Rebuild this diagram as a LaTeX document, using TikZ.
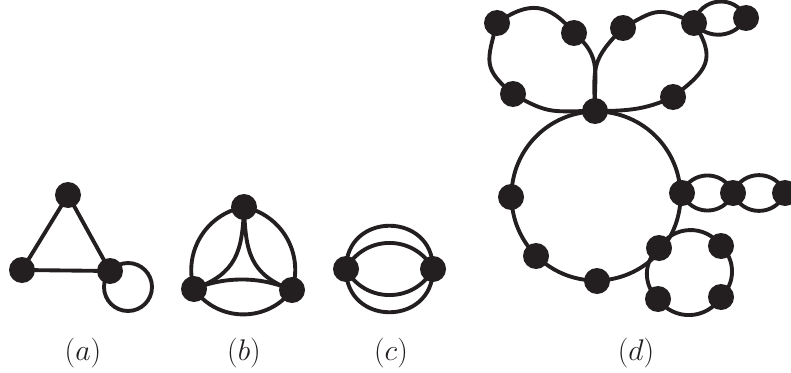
\documentclass[tikz,border=0pt]{standalone}
\usetikzlibrary{backgrounds}
\definecolor{ink}{RGB}{35,31,32}
\newcommand{\sublab}[1]{\scalebox{1.08}{$(#1)$}}
\begin{document}
\begin{tikzpicture}[x=0.75pt,y=0.75pt,
  dot/.style={circle,fill=ink,draw=none,inner sep=0pt,minimum size=19.5pt},
  edge/.style={draw=ink,line width=2.9pt},
  lab/.style={anchor=base,inner sep=0pt,text=ink,font=\fontsize{20.74}{25}\selectfont}]
\useasboundingbox (0,0) rectangle (791,372);

% ---------- (a)
\node[dot] (a1) at (68,177) {};
\node[dot] (a2) at (22,102) {};
\node[dot] (a3) at (110,101) {};
\coordinate (aloop) at (128,85);
\node[lab] (la) at (83,12) {\sublab{a}};

% ---------- (b)
\node[dot] (b1) at (244,165) {};
\node[dot] (b2) at (194,83) {};
\node[dot] (b3) at (292,82) {};
\node[lab] (lb) at (244,12) {\sublab{b}};

% ---------- (c)
\node[dot] (c1) at (346,103) {};
\node[dot] (c2) at (433,103) {};
\node[lab] (lc) at (391,12) {\sublab{c}};

% ---------- (d)
\coordinate (dc) at (596,176);
\node[dot] (h)  at (595,261) {};
\node[dot] (p1) at (497,349) {};
\node[dot] (p2) at (574,339) {};
\node[dot] (p3) at (623,344) {};
\node[dot] (p4) at (694,349) {};
\node[dot] (p5) at (746,354) {};
\node[dot] (p6) at (513,278) {};
\node[dot] (p7) at (673,275) {};
\node[dot] (k1) at (511,175) {};
\node[dot] (k2) at (536,116) {};
\node[dot] (k3) at (597,91) {};
\node[dot] (k4) at (682,179) {};
\node[dot] (k5) at (659,124) {};
\node[dot] (e1) at (733,179) {};
\node[dot] (e2) at (785,179) {};
\node[dot] (s2) at (721,126) {};
\node[dot] (s3) at (658,73) {};
\node[dot] (s4) at (721,75) {};
\node[lab] (ld) at (636,12) {\sublab{d}};

\begin{pgfonlayer}{background}
% (a)
\draw[edge] (a1.center) -- (a2.center) -- (a3.center) -- cycle;
\draw[edge] (aloop) circle[radius=24];
% (b)
\draw[edge] (b1.center) to[bend right=48,looseness=1.03] (b2.center);
\draw[edge] (b1.center) to[out=268,in=20,looseness=1.2] (b2.center);
\draw[edge] (b1.center) to[bend left=48,looseness=1.03] (b3.center);
\draw[edge] (b1.center) to[out=272,in=160,looseness=1.2] (b3.center);
\draw[edge] (b2.center) to[bend right=54,looseness=1.07] (b3.center);
\draw[edge] (b2.center) to[bend left=23,looseness=0.89] (b3.center);
% (c)
\draw[edge] (c1.center) to[bend left=90,looseness=1.7] (c2.center);
\draw[edge] (c1.center) to[bend right=90,looseness=1.7] (c2.center);
\draw[edge] (c1.center) to[bend left=62,looseness=1.16] (c2.center);
\draw[edge] (c1.center) to[bend right=62,looseness=1.16] (c2.center);
% (d) big ring
\draw[edge] (dc) circle[radius=84.5];
% left petal
\draw[edge] (p1.center) to[out=35,in=130,looseness=1.3] (p2.center);
\draw[edge] (p1.center) to[out=255,in=140,looseness=1.4] (p6.center);
\draw[edge] (p6.center) to[out=-30,in=180,looseness=1.3] (h.center);
\draw[edge] (p2.center) to[out=-40,in=92,looseness=1.2] (h.center);
% right petal
\draw[edge] (h.center) to[out=92,in=225,looseness=1.3] (p3.center);
\draw[edge] (p3.center) to[out=30,in=155,looseness=1.4] (p4.center);
\draw[edge] (p4.center) to[out=-58,in=38,looseness=1.45] (p7.center);
\draw[edge] (p7.center) to[out=205,in=0] (h.center);
% small loop
\draw[edge] (p4.center) to[bend left=72,looseness=1.3] (p5.center);
\draw[edge] (p4.center) to[bend right=57,looseness=1.1] (p5.center);
% chain
\draw[edge] (k4.center) to[bend left=69,looseness=1.26] (e1.center);
\draw[edge] (k4.center) to[bend right=69,looseness=1.26] (e1.center);
\draw[edge] (e1.center) to[bend left=69,looseness=1.26] (e2.center);
\draw[edge] (e1.center) to[bend right=69,looseness=1.26] (e2.center);
% square
\draw[edge] (k5.center) to[bend left=57,looseness=1.11] (s2.center);
\draw[edge] (s2.center) to[bend left=47,looseness=1.01] (s4.center);
\draw[edge] (s4.center) to[bend left=57,looseness=1.10] (s3.center);
\draw[edge] (s3.center) to[bend left=49,looseness=1.03] (k5.center);
\end{pgfonlayer}
\end{tikzpicture}
\end{document}
